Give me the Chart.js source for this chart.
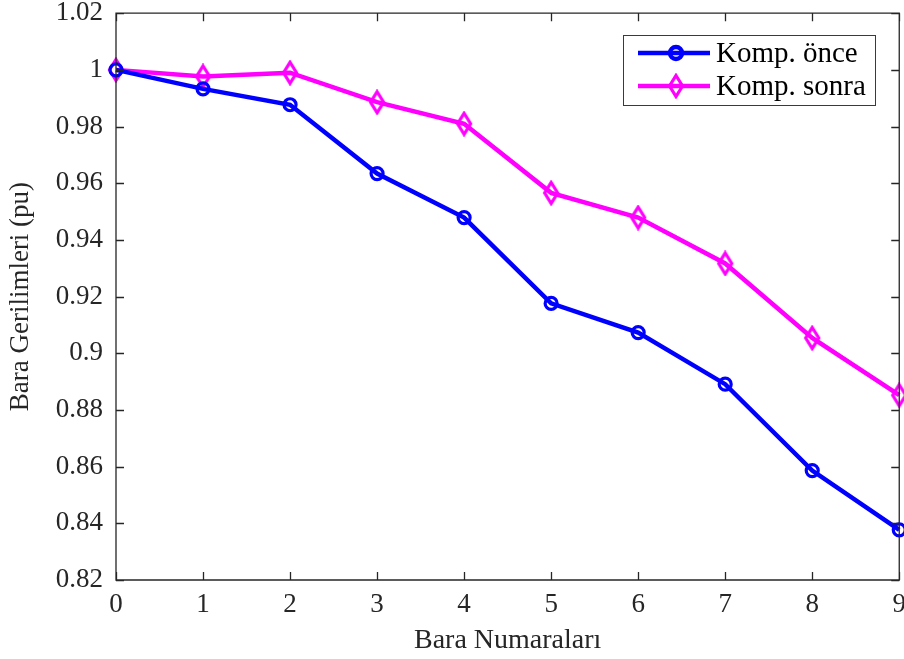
<!DOCTYPE html>
<html>
<head>
<meta charset="utf-8">
<script src="https://cdn.jsdelivr.net/npm/chart.js@4.4.1/dist/chart.umd.min.js"></script>
<style>
  html, body { margin: 0; padding: 0; background: #fff; overflow: hidden; }
  #wrap { width: 904px; height: 659px; overflow: hidden; }
</style>
</head>
<body>
<div id="wrap"><canvas id="chart" width="915" height="659"></canvas></div>
<script>
const busNumbers = [0, 1, 2, 3, 4, 5, 6, 7, 8, 9];
const beforeComp = [1.0, 0.9933, 0.9877, 0.9634, 0.9479, 0.9176, 0.9073, 0.8891, 0.8586, 0.8377];
const afterComp = [1.0, 0.9977, 0.9990, 0.9886, 0.9810, 0.9566, 0.9479, 0.9317, 0.9054, 0.8852];
const yTickLabels = ["0.82", "0.84", "0.86", "0.88", "0.9", "0.92", "0.94", "0.96", "0.98", "1", "1.02"];
const xTickLabels = ["0", "1", "2", "3", "4", "5", "6", "7", "8", "9"];

const axisColor = "#262626";
const serif = "'Liberation Serif', 'Times New Roman', serif";

// tall open diamond marker, like MATLAB's 'd'
function diamondMarker(color) {
  const c = document.createElement("canvas");
  c.width = 20; c.height = 26;
  const g = c.getContext("2d");
  g.strokeStyle = color;
  g.lineWidth = 3.2;
  g.lineJoin = "miter";
  g.beginPath();
  g.moveTo(10, 2.5); g.lineTo(16.5, 13); g.lineTo(10, 23.5); g.lineTo(3.5, 13);
  g.closePath();
  g.stroke();
  return c;
}
const diamond = diamondMarker("#ff00ff");

// inward tick marks and the closing box on top / right
const boxTicks = {
  id: "boxTicks",
  afterDraw(chart) {
    const { ctx, chartArea: a, scales } = chart;
    const len = 8;
    ctx.save();
    ctx.strokeStyle = axisColor;
    ctx.lineWidth = 1.3;
    ctx.beginPath();
    ctx.rect(a.left, a.top, a.right - a.left, a.bottom - a.top);
    scales.x.ticks.forEach(t => {
      const px = Math.round(scales.x.getPixelForValue(t.value)) + 0.5;
      ctx.moveTo(px, a.bottom); ctx.lineTo(px, a.bottom - len);
      ctx.moveTo(px, a.top); ctx.lineTo(px, a.top + len);
    });
    scales.y.ticks.forEach(t => {
      const py = Math.round(scales.y.getPixelForValue(t.value)) + 0.5;
      ctx.moveTo(a.left, py); ctx.lineTo(a.left + len, py);
      ctx.moveTo(a.right, py); ctx.lineTo(a.right - len, py);
    });
    ctx.stroke();
    ctx.restore();
  }
};

// legend box in the upper right corner of the axes
const boxLegend = {
  id: "boxLegend",
  afterDraw(chart) {
    const { ctx } = chart;
    const x0 = 623, y0 = 35, w = 252, h = 70;
    ctx.save();
    ctx.fillStyle = "#fff";
    ctx.fillRect(x0, y0, w, h);
    ctx.strokeStyle = "#3a3a3a";
    ctx.lineWidth = 1;
    ctx.strokeRect(x0 + 0.5, y0 + 0.5, w, h);
    const rows = [53, 86];
    chart.data.datasets.forEach((ds, i) => {
      const y = rows[i];
      ctx.strokeStyle = ds.borderColor;
      ctx.lineWidth = ds.borderWidth;
      ctx.beginPath();
      ctx.moveTo(638, y); ctx.lineTo(710, y);
      ctx.stroke();
      ctx.fillStyle = "rgba(0,0,0,0)";
      Chart.helpers.drawPoint(ctx, {
        pointStyle: ds.pointStyle,
        radius: ds.pointRadius,
        borderWidth: ds.pointBorderWidth,
        rotation: 0
      }, 676, y);
      ctx.fillStyle = "#000";
      ctx.font = "29px " + serif;
      ctx.textBaseline = "middle";
      ctx.textAlign = "left";
      ctx.fillText(ds.label, 716, y + 1);
    });
    ctx.restore();
  }
};

new Chart(document.getElementById("chart"), {
  type: "line",
  data: {
    datasets: [
      {
        label: "Komp. önce",
        data: busNumbers.map((b, i) => ({ x: b, y: beforeComp[i] })),
        borderColor: "#0000ff",
        borderWidth: 4.5,
        pointStyle: "circle",
        pointRadius: 6,
        pointBorderWidth: 3.2,
        pointBorderColor: "#0000ff",
        pointBackgroundColor: "rgba(0,0,0,0)",
        tension: 0,
        clip: false
      },
      {
        label: "Komp. sonra",
        data: busNumbers.map((b, i) => ({ x: b, y: afterComp[i] })),
        borderColor: "#ff00ff",
        borderWidth: 4.5,
        pointStyle: diamond,
        pointRadius: 10,
        pointBorderWidth: 3.2,
        pointBorderColor: "#ff00ff",
        pointBackgroundColor: "rgba(0,0,0,0)",
        tension: 0,
        clip: false
      }
    ]
  },
  options: {
    responsive: false,
    animation: false,
    layout: { padding: { left: 0, top: 13, right: 0, bottom: 0 } },
    plugins: { legend: { display: false }, tooltip: { enabled: false } },
    scales: {
      x: {
        type: "linear",
        min: 0,
        max: 9,
        grid: { display: false, drawTicks: false },
        border: { display: false },
        afterBuildTicks: s => { s.ticks = busNumbers.map(v => ({ value: v })); },
        afterFit: s => { s.height = 79; },
        ticks: {
          color: axisColor,
          font: { family: serif, size: 27 },
          padding: 9,
          maxRotation: 0,
          callback: (v, i) => xTickLabels[i]
        },
        title: {
          display: true,
          text: "Bara Numaraları",
          color: axisColor,
          font: { family: serif, size: 28 },
          padding: { top: 0, bottom: 2 }
        }
      },
      y: {
        min: 0.82,
        max: 1.02,
        grid: { display: false, drawTicks: false },
        border: { display: false },
        afterBuildTicks: s => { s.ticks = yTickLabels.map(l => ({ value: parseFloat(l) })); },
        afterFit: s => { s.width = 116; s.paddingTop = 0; s.paddingBottom = 0; },
        ticks: {
          color: axisColor,
          font: { family: serif, size: 27 },
          padding: 13,
          callback: (v, i) => yTickLabels[i]
        },
        title: {
          display: true,
          text: "Bara Gerilimleri (pu)",
          color: axisColor,
          font: { family: serif, size: 27 },
          padding: { top: 5, bottom: 0 }
        }
      }
    }
  },
  plugins: [boxTicks, boxLegend]
});
</script>
</body>
</html>
